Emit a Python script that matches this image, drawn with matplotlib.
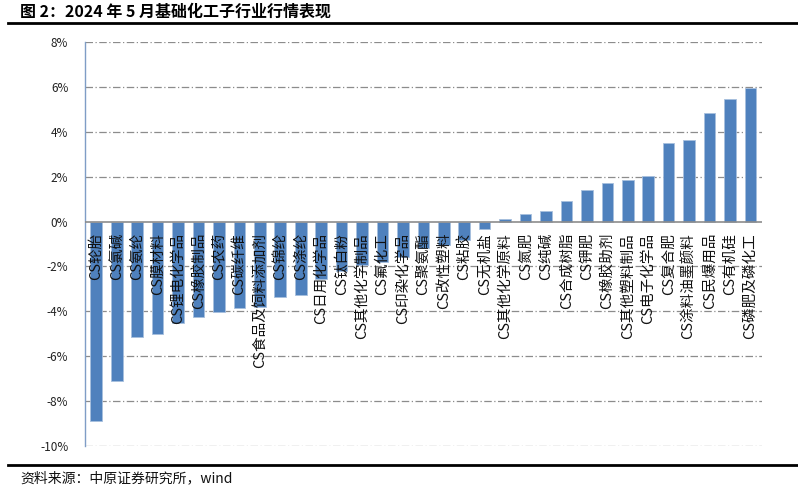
import matplotlib
matplotlib.use("Agg")
import matplotlib.pyplot as plt
from matplotlib.lines import Line2D
from matplotlib.ticker import FuncFormatter

plt.rcParams["font.family"] = ["Noto Sans CJK SC", "DejaVu Sans"]

TITLE = "图 2：2024 年 5 月基础化工子行业行情表现"
SOURCE = "资料来源：中原证券研究所，wind"

# sub-industry names and May-2024 returns (%)
industries = [
    "CS轮胎", "CS氯碱", "CS氨纶", "CS膜材料", "CS锂电化学品", "CS橡胶制品",
    "CS农药", "CS碳纤维", "CS食品及饲料添加剂", "CS锦纶", "CS涤纶",
    "CS日用化学品", "CS钛白粉", "CS其他化学制品", "CS氟化工", "CS印染化学品",
    "CS聚氨酯", "CS改性塑料", "CS粘胶", "CS无机盐", "CS其他化学原料",
    "CS氮肥", "CS纯碱", "CS合成树脂", "CS钾肥", "CS橡胶助剂",
    "CS其他塑料制品", "CS电子化学品", "CS复合肥", "CS涂料油墨颜料",
    "CS民爆用品", "CS有机硅", "CS磷肥及磷化工",
]
returns = [
    -8.90, -7.09, -5.15, -4.99, -4.53, -4.26, -4.04, -3.84, -3.80, -3.35,
    -3.25, -2.54, -2.20, -1.93, -1.78, -1.57, -1.19, -1.05, -0.83, -0.34,
    0.10, 0.36, 0.45, 0.92, 1.40, 1.70, 1.86, 2.02, 3.50, 3.62,
    4.85, 5.48, 5.96,
]
yticks = [-10, -8, -6, -4, -2, 0, 2, 4, 6, 8]

fig = plt.figure(figsize=(7.98, 4.95), dpi=100)
ax = fig.add_axes([0.1065, 0.099, 0.848, 0.816])

x = list(range(len(industries)))
ax.bar(x, returns, width=0.57, color="#4F81BD", edgecolor="#A7BFDE",
       linewidth=0.6, zorder=3)

for i, name in enumerate(industries):
    ax.text(i, -0.5, name, rotation=90, ha="center", va="top",
            fontsize=10.5, color="#111111", zorder=4)

ax.set_ylim(-10, 8)
ax.set_xlim(-0.55, len(industries) - 0.45)
ax.set_yticks(yticks)
ax.yaxis.set_major_formatter(FuncFormatter(lambda v, p: f"{v:.0f}%"))
ax.tick_params(axis="y", length=0, labelsize=8.5, pad=12, colors="#222222")
ax.set_xticks([])
for y in yticks:
    if y != 0:
        ax.axhline(y, color="#8C8C8C", lw=0.9, ls=(0, (6, 2, 1, 2)), zorder=1)
ax.axhline(0, color="#8C8C8C", lw=1.2, zorder=4)

for s in ["top", "right", "bottom"]:
    ax.spines[s].set_visible(False)
ax.spines["left"].set_color("#7F9DC6")
ax.spines["left"].set_linewidth(1.0)

# header / footer
fig.text(20 / 798, 1 - 12 / 495, TITLE, fontsize=11.5, fontweight="bold",
         ha="left", va="center")
fig.add_artist(Line2D([8 / 798, 1], [1 - 23 / 495] * 2, color="black", lw=2.0))
fig.add_artist(Line2D([8 / 798, 1], [1 - 465 / 495] * 2, color="black", lw=2.0))
fig.text(20 / 798, 1 - 478 / 495, SOURCE, fontsize=10, ha="left", va="center",
         color="#111111")

fig.savefig("out.png", dpi=100)
